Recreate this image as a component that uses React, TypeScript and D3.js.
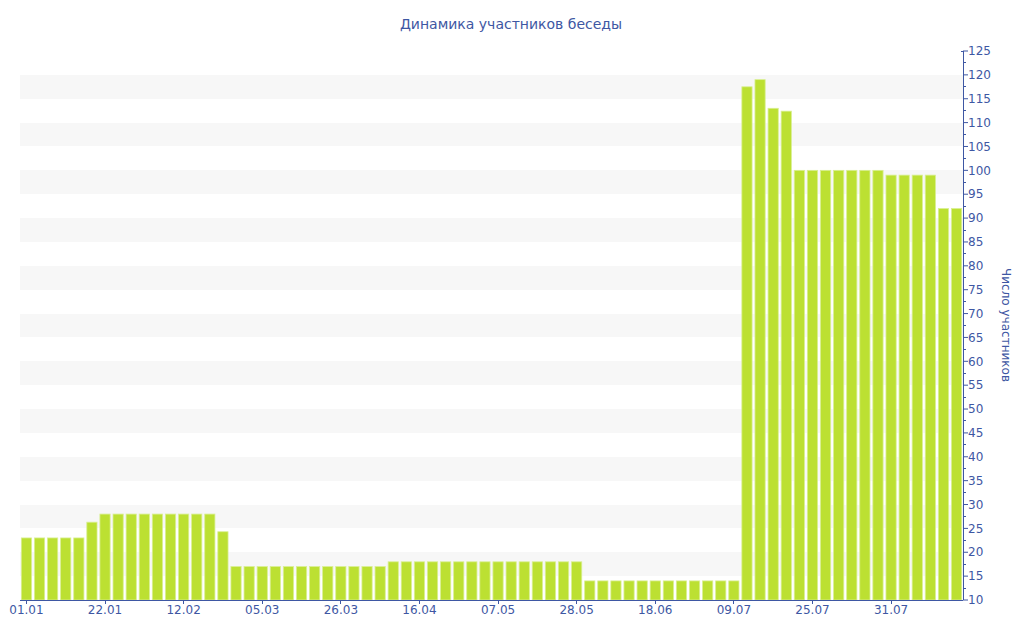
import * as d3 from 'd3'
import { useMemo } from 'react'

const WIDTH = 1024
const HEIGHT = 640
const AXIS_COLOR = '#3e57a3'
const BAR_COLOR = '#bce032'

const TITLE = 'Динамика участников беседы'
const Y_TITLE = 'Число участников'

// dates of the snapshots (x categories)
const DATES = [
  '01.01', '04.01', '08.01', '11.01', '15.01', '18.01', '22.01', '25.01', '29.01', '01.02',
  '05.02', '08.02', '12.02', '15.02', '19.02', '22.02', '26.02', '01.03', '05.03', '08.03',
  '12.03', '15.03', '19.03', '22.03', '26.03', '29.03', '02.04', '05.04', '09.04', '12.04',
  '16.04', '19.04', '23.04', '26.04', '30.04', '03.05', '07.05', '10.05', '14.05', '17.05',
  '21.05', '24.05', '28.05', '31.05', '04.06', '07.06', '11.06', '14.06', '18.06', '21.06',
  '25.06', '28.06', '02.07', '05.07', '09.07', '12.07', '15.07', '18.07', '21.07', '23.07',
  '25.07', '26.07', '27.07', '28.07', '29.07', '30.07', '31.07', '01.08', '02.08', '03.08',
  '04.08', '05.08',
]

// participants count per date
const MEMBERS = [
  23, 23, 23, 23, 23, 26.3, 28, 28, 28, 28,
  28, 28, 28, 28, 28, 24.3, 17, 17, 17, 17,
  17, 17, 17, 17, 17, 17, 17, 17, 18, 18,
  18, 18, 18, 18, 18, 18, 18, 18, 18, 18,
  18, 18, 18, 14, 14, 14, 14, 14, 14, 14,
  14, 14, 14, 14, 14, 117.5, 119, 113, 112.4, 100,
  100, 100, 100, 100, 100, 100, 99, 99, 99, 99,
  92, 92,
]

// labelled x ticks
const X_TICKS = ['01.01', '22.01', '12.02', '05.03', '26.03', '16.04', '07.05', '28.05', '18.06', '09.07', '25.07', '31.07']

const Y_DOMAIN = [10, 125]
const Y_TICKS = d3.range(10, 126, 5)
const Y_MINOR = d3.range(12.5, 125, 5)

export default function App() {
  const chart = useMemo(() => {
    const left = 20
    const right = 963
    const top = 51
    const bottom = 600

    const x = d3
      .scaleBand()
      .domain(DATES)
      .range([left, right])
      .paddingInner(0.22)
      .paddingOuter(0.1)

    const y = d3.scaleLinear().domain(Y_DOMAIN).range([bottom, top])

    // alternating grey stripes, every other 5-unit interval
    const stripes = Y_TICKS.filter((v) => v % 10 === 5 && v < 125).map((v) => (
      <rect
        key={`s${v}`}
        x={left}
        y={y(v + 5)}
        width={right - left}
        height={y(v) - y(v + 5)}
        fill="#f7f7f7"
      />
    ))

    const bars = DATES.map((d, i) => (
      <rect
        key={d}
        x={x(d)}
        y={y(MEMBERS[i])}
        width={x.bandwidth()}
        height={bottom - y(MEMBERS[i])}
        fill={BAR_COLOR}
        stroke="#d9ef92"
        strokeWidth={0.8}
      />
    ))

    const xTicks = X_TICKS.map((d) => {
      const cx = (x(d) ?? 0) + x.bandwidth() / 2
      return (
        <g key={d} transform={`translate(${cx},${bottom})`}>
          <line y1={0} y2={4} stroke={AXIS_COLOR} />
          <text y={14} textAnchor="middle" fill={AXIS_COLOR} fontSize={12}>
            {d}
          </text>
        </g>
      )
    })

    const yTicks = Y_TICKS.map((v) => (
      <g key={v} transform={`translate(${right},${y(v)})`}>
        <line x1={0} x2={5} stroke={AXIS_COLOR} />
        <text x={5} dy="0.35em" fill={AXIS_COLOR} fontSize={12}>
          {v}
        </text>
      </g>
    ))

    const yMinor = Y_MINOR.map((v) => (
      <line key={`m${v}`} x1={right} x2={right + 3} y1={y(v)} y2={y(v)} stroke={AXIS_COLOR} />
    ))

    return { left, right, top, bottom, stripes, bars, xTicks, yTicks, yMinor }
  }, [])

  const { left, right, top, bottom, stripes, bars, xTicks, yTicks, yMinor } = chart

  return (
    <svg
      width={WIDTH}
      height={HEIGHT}
      style={{ position: 'absolute', left: 0, top: 0, fontFamily: 'DejaVu Sans, Verdana, sans-serif' }}
    >
      <rect width={WIDTH} height={HEIGHT} fill="#fff" />
      <text x={511} y={29} textAnchor="middle" fill={AXIS_COLOR} fontSize={14}>
        {TITLE}
      </text>
      <g shapeRendering="crispEdges">{stripes}</g>
      <g>{bars}</g>
      <g shapeRendering="crispEdges">
        <line x1={left} x2={right} y1={bottom} y2={bottom} stroke={AXIS_COLOR} />
        <line x1={right} x2={right} y1={top} y2={bottom} stroke={AXIS_COLOR} />
        <line x1={right - 2} x2={right} y1={top} y2={top} stroke={AXIS_COLOR} />
        {yMinor}
      </g>
      <g shapeRendering="crispEdges">{xTicks}</g>
      <g>{yTicks}</g>
      <text
        transform={`translate(1002,325) rotate(90)`}
        textAnchor="middle"
        fill={AXIS_COLOR}
        fontSize={12}
      >
        {Y_TITLE}
      </text>
    </svg>
  )
}
